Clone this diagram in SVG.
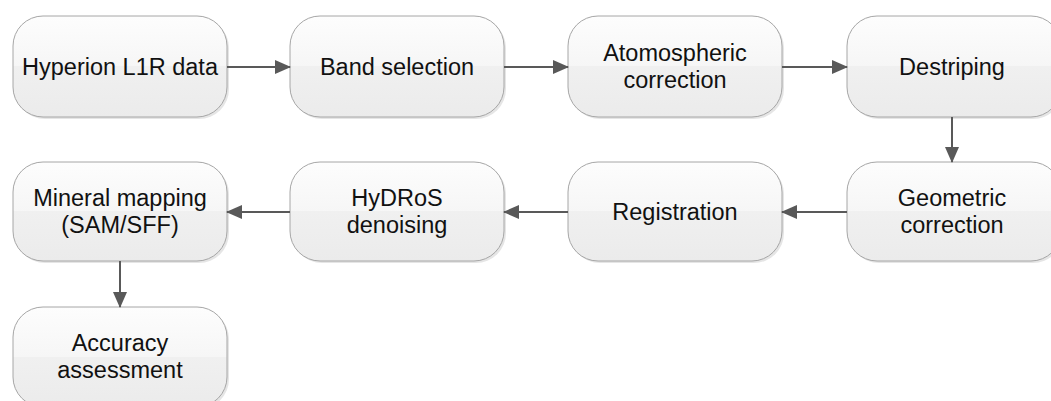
<svg xmlns="http://www.w3.org/2000/svg" width="1051" height="401" viewBox="0 0 1051 401">
<style>
.box{fill:url(#g);stroke:#a6a6a6;stroke-width:1}
.sh{fill:#000;opacity:0.10}
.t{font-family:"Liberation Sans",Arial,sans-serif;font-size:23.5px;fill:#111;text-anchor:middle}
.c{stroke:#595959;stroke-width:2;fill:none;marker-end:url(#a)}
</style>
<defs>
<linearGradient id="g" x1="0" y1="0" x2="0" y2="1">
<stop offset="0" stop-color="#fdfdfd"/>
<stop offset="0.5" stop-color="#f6f6f6"/>
<stop offset="0.5" stop-color="#f0f0f0"/>
<stop offset="1" stop-color="#ebebeb"/>
</linearGradient>
<marker id="a" markerWidth="8" markerHeight="7" refX="7.5" refY="3.5" orient="auto" markerUnits="strokeWidth">
<path d="M0,0 L8,3.5 L0,7 Z" fill="#595959"/>
</marker>
</defs>
<g id="n1"><rect class="sh" x="15" y="18" width="214" height="101" rx="30"/><rect class="box" x="13" y="16" width="214" height="101" rx="30"/><text class="t" x="120" y="75">Hyperion L1R data</text></g>
<g id="n2"><rect class="sh" x="292" y="18" width="214" height="101" rx="30"/><rect class="box" x="290" y="16" width="214" height="101" rx="30"/><text class="t" x="397" y="75">Band selection</text></g>
<g id="n3"><rect class="sh" x="570" y="18" width="214" height="101" rx="30"/><rect class="box" x="568" y="16" width="214" height="101" rx="30"/><text class="t" x="675" y="61">Atomospheric</text><text class="t" x="675" y="88">correction</text></g>
<g id="n4"><rect class="sh" x="849" y="18" width="214" height="101" rx="30"/><rect class="box" x="847" y="16" width="214" height="101" rx="30"/><text class="t" x="952" y="75">Destriping</text></g>
<g id="n5"><rect class="sh" x="849" y="164" width="214" height="99" rx="30"/><rect class="box" x="847" y="162" width="214" height="99" rx="30"/><text class="t" x="952" y="206">Geometric</text><text class="t" x="952" y="233">correction</text></g>
<g id="n6"><rect class="sh" x="570" y="164" width="214" height="99" rx="30"/><rect class="box" x="568" y="162" width="214" height="99" rx="30"/><text class="t" x="675" y="220">Registration</text></g>
<g id="n7"><rect class="sh" x="292" y="164" width="214" height="99" rx="30"/><rect class="box" x="290" y="162" width="214" height="99" rx="30"/><text class="t" x="397" y="206">HyDRoS</text><text class="t" x="397" y="233">denoising</text></g>
<g id="n8"><rect class="sh" x="15" y="164" width="214" height="99" rx="30"/><rect class="box" x="13" y="162" width="214" height="99" rx="30"/><text class="t" x="120" y="206">Mineral mapping</text><text class="t" x="120" y="233">(SAM/SFF)</text></g>
<g id="n9"><rect class="sh" x="15" y="309" width="214" height="100" rx="30"/><rect class="box" x="13" y="307" width="214" height="100" rx="30"/><text class="t" x="120" y="351">Accuracy</text><text class="t" x="120" y="378">assessment</text></g>
<g id="connectors">
<line class="c" x1="227" y1="67" x2="290" y2="67"/>
<line class="c" x1="504" y1="67" x2="568" y2="67"/>
<line class="c" x1="782" y1="67" x2="847" y2="67"/>
<line class="c" x1="952" y1="117" x2="952" y2="162"/>
<line class="c" x1="847" y1="212" x2="782" y2="212"/>
<line class="c" x1="568" y1="212" x2="504" y2="212"/>
<line class="c" x1="290" y1="212" x2="227" y2="212"/>
<line class="c" x1="120" y1="261" x2="120" y2="307"/>
</g>
</svg>
